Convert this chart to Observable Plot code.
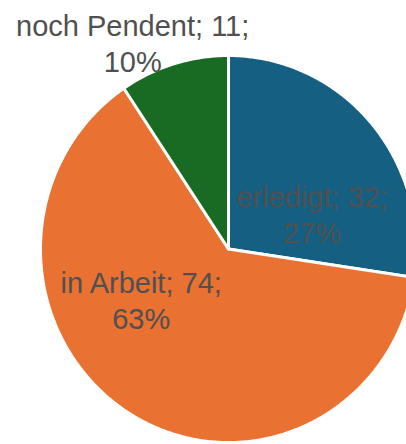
<!DOCTYPE html>
<html><head><meta charset="utf-8">
<script src="https://cdn.jsdelivr.net/npm/d3@7"></script>
<script src="https://cdn.jsdelivr.net/npm/@observablehq/plot@0.6"></script>
<style>html,body{margin:0;padding:0;background:#fff;overflow:hidden}</style>
</head><body><div id="chart"></div>
<script>
const categories = ["erledigt", "in Arbeit", "noch Pendent"];
const values = [32, 74, 11];
const percentLabels = ["27%", "63%", "10%"];
const colors = ["#156082", "#E97132", "#196B24"];
// label layout: pixel offsets from each slice's centroid (at 0.6 radius)
const labelOffsets = [[-2, 40], [-27, -48], [-63, -95]];

const arcs = d3.pie().sort(null).value(d => d)(values);
const slices = [];
arcs.forEach((p, i) => {
  const n = Math.max(2, Math.ceil((p.endAngle - p.startAngle) / 0.01));
  slices.push({name: categories[i], x: 0, y: 0});
  for (let k = 0; k <= n; k++) {
    const a = p.startAngle + (p.endAngle - p.startAngle) * k / n;
    slices.push({name: categories[i], x: Math.sin(a), y: Math.cos(a)});
  }
  slices.push({name: categories[i], x: 0, y: 0});
});

const labels = arcs.map((p, i) => {
  const mid = (p.startAngle + p.endAngle) / 2;
  return {
    x: 0.6 * Math.sin(mid), y: 0.6 * Math.cos(mid),
    text: `${categories[i]}; ${values[i]};\n${percentLabels[i]}`,
    dx: labelOffsets[i][0], dy: labelOffsets[i][1]
  };
});

const chart = Plot.plot({
  width: 406, height: 444,
  margin: 0,
  x: {domain: [-1, 1], range: [40, 416], axis: null},
  y: {domain: [-1, 1], range: [442, 55], axis: null},
  color: {domain: categories, range: colors},
  style: {background: "#fff", overflow: "hidden"},
  marks: [
    Plot.line(slices, {x: "x", y: "y", z: "name", fill: "name", stroke: "white",
      strokeWidth: 3, strokeLinejoin: "miter", curve: "linear"}),
    ...labels.map(l => Plot.text([l], {x: "x", y: "y", text: "text", dx: l.dx, dy: l.dy,
      fontSize: 29, lineHeight: 1.24, fill: "#505050",
      fontFamily: "Liberation Sans, Arial, sans-serif"}))
  ]
});
document.getElementById("chart").appendChild(chart);
</script>
</body></html>
